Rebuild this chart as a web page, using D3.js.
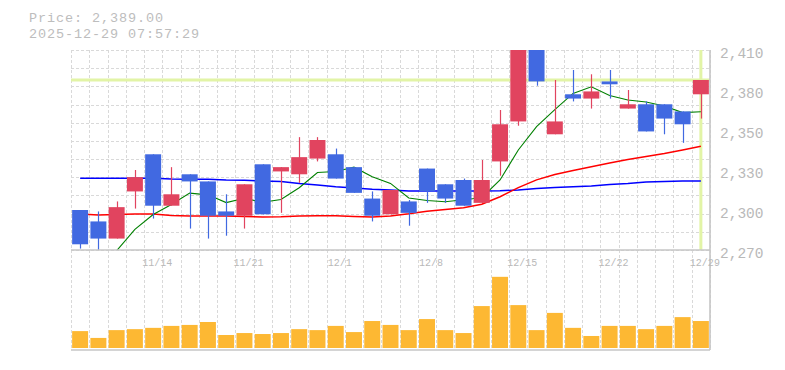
<!DOCTYPE html>
<head>
<meta charset="utf-8">
<title>Candlestick Chart</title>
<script type="text/javascript" src="https://d3js.org/d3.v7.min.js"></script>
<style>
body {
margin: 0;
background: #ffffff;
}

/* AXES */
.axis path,
.axis line {
display: none;
}

.axis text {
fill: #b9b9b9;
font-family: "Liberation Mono", monospace;
}

/* GRID */
.grid line {
stroke: #d9d9d9;
stroke-width: 1;
stroke-dasharray: 3,2;
shape-rendering: crispEdges;
}

.frame {
stroke: #c6c6c6;
stroke-width: 1.6;
fill: none;
}

.ma {
fill: none;
}

.header {
fill: #bdbdbd;
font-family: "Liberation Mono", monospace;
font-size: 13.5px;
letter-spacing: 0.9px;
}
</style>
</head>
<body>
<div id="container"></div>
<script>
//-----------------------------DATA-----------------------------//
const dates = ["11/10","11/11","11/12","11/13","11/14","11/17","11/18","11/19","11/20","11/21",
               "11/25","11/26","11/27","11/28","12/1","12/2","12/3","12/4","12/5","12/8",
               "12/9","12/10","12/11","12/12","12/15","12/16","12/17","12/18","12/19","12/22",
               "12/23","12/24","12/25","12/26","12/29"];

const opens  = [2298,2290,2278,2311,2337,2301,2323,2318,2297,2294,2330,2325,2323,2334,2337,2328,2306,2295,2304,2327,
                2316,2319,2303,2332,2360,2414,2351,2379,2376,2388,2369,2372,2372,2367,2379];
const highs  = [2298,2297,2304,2326,2337,2328,2323,2318,2309,2316,2330,2328,2349,2349,2341,2328,2311,2312,2305,2327,
                2316,2320,2333,2368,2420,2418,2389,2396,2393,2396,2382,2374,2372,2367,2389];
const lows   = [2271,2270,2278,2299,2292,2301,2285,2278,2280,2285,2295,2296,2317,2332,2320,2310,2290,2295,2287,2303,
                2303,2301,2303,2322,2357,2385,2351,2374,2369,2376,2369,2353,2351,2345,2362];
const closes = [2274,2278,2300,2321,2301,2309,2318,2294,2294,2316,2295,2328,2335,2347,2320,2310,2294,2312,2296,2311,
                2306,2301,2319,2358,2416,2388,2360,2376,2381,2386,2372,2353,2362,2358,2389];

// moving averages (5, 25, 75 days)
const ma5  = [2255,2262,2269.5,2284.5,2294.8,2301.8,2309.8,2308.6,2303.2,2306.2,2303.4,2305.4,2313.6,2324.2,2325,2328,
              2321.2,2316.6,2306.4,2304.6,2303.8,2305.2,2306.6,2319,2340,2356.4,2368.2,2379.6,2384.2,2378.2,2375,
              2373.6,2370.8,2366.2,2366.8];
const ma25 = [2295.2,2294.5,2294.9,2295.2,2295.2,2294.2,2293.8,2293.8,2293.8,2293.5,2293.1,2293.3,2293.8,2294,2294,
              2293.5,2293.1,2293.8,2295.3,2297.1,2298.4,2299.6,2302,2307.3,2313.7,2319.1,2322.8,2325.6,2328.2,2330.9,
              2333.3,2335.5,2337.6,2340,2342.6];
const ma75 = [2320.2,2320.2,2320.2,2320.2,2320.2,2319.7,2319.6,2319.5,2319,2318.9,2318.3,2318,2316.6,2315.5,2314.3,
              2313.4,2312.5,2312,2311.3,2311.3,2311.3,2311.3,2311.3,2311.5,2312,2313,2313.8,2314.3,2314.8,2315.9,
              2316.6,2317.6,2318,2318.3,2318.3];

// volume (thousand shares)
const volumes = [52,31,55,58,62,68,71,80,40,46,43,46,58,55,68,49,83,71,55,89,
                 55,46,129,219,132,55,108,62,37,68,68,58,68,95,83];

const lastPrice = 2389;
const priceTicks = [2410, 2382, 2354, 2326, 2298, 2270];
const priceTickLabels = ["2,410", "2,380", "2,350", "2,330", "2,300", "2,270"];
const dateTicks = ["11/14", "11/21", "12/1", "12/8", "12/15", "12/22", "12/29"];
const headerLines = ["Price: 2,389.00", "2025-12-29 07:57:29"];

//-----------------------------SVG------------------------------//
const width = 785;
const height = 370;
const left = 71, right = 710;
const priceTop = 50, priceBottom = 250;
const volTop = 270, volBottom = 348, volLine = 350;

const svg = d3.select("div#container").append("svg")
    .attr("width", width)
    .attr("height", height);

//----------------------------SCALES----------------------------//
const xScale = d3.scaleBand()
    .domain(dates)
    .range([left, right])
    .paddingInner(0.125)
    .paddingOuter(0.0625);
const step = xScale.step();
const bw = xScale.bandwidth();
const cx = d => xScale(d) + bw / 2;

const yScale = d3.scaleLinear().domain([2270, 2410]).range([priceBottom, priceTop]);
const vScale = d3.scaleLinear().domain([0, 240]).range([volBottom, volTop]);

const candles = dates.map((d, i) => ({
    date: d, open: opens[i], high: highs[i], low: lows[i], close: closes[i]
}));

//-----------------------------GRID-----------------------------//
const grid = svg.append("g").attr("class", "grid");

// vertical lines between days
grid.selectAll(".vgrid")
    .data(dates.concat(["end"]))
    .enter().append("line")
    .attr("x1", (d, i) => Math.round(left + i * step) + 0.5)
    .attr("x2", (d, i) => Math.round(left + i * step) + 0.5)
    .attr("y1", priceTop)
    .attr("y2", volLine);

// horizontal lines in price panel
grid.selectAll(".hgrid")
    .data(d3.range(12).map(k => 2270 + k * 140 / 11))
    .enter().append("line")
    .attr("x1", left)
    .attr("x2", right)
    .attr("y1", d => Math.round(yScale(d)) + 0.5)
    .attr("y2", d => Math.round(yScale(d)) + 0.5);

//---------------------------CLIP-------------------------------//
svg.append("clipPath")
    .attr("id", "priceClip")
    .append("rect")
    .attr("x", left)
    .attr("y", priceTop)
    .attr("width", right - left)
    .attr("height", priceBottom - priceTop);

const price = svg.append("g").attr("clip-path", "url(#priceClip)");

// current price and last day markers
price.append("line")
    .attr("x1", left).attr("x2", right)
    .attr("y1", yScale(lastPrice)).attr("y2", yScale(lastPrice))
    .attr("stroke", "#e2f4a6")
    .attr("stroke-width", 3);

price.append("line")
    .attr("x1", cx(dates[dates.length - 1])).attr("x2", cx(dates[dates.length - 1]))
    .attr("y1", priceTop).attr("y2", priceBottom)
    .attr("stroke", "#e2f4a6")
    .attr("stroke-width", 3);

//----------------------------LINES-----------------------------//
const line = d3.line()
    .x((d, i) => cx(dates[i]))
    .y(d => yScale(d));

[[ma75, "#0000ff", 1.5], [ma25, "#ff0000", 1.5], [ma5, "#008000", 1.1]].forEach(function(s) {
    price.append("path")
        .attr("class", "ma")
        .attr("d", line(s[0]))
        .attr("stroke", s[1])
        .attr("stroke-width", s[2]);
});

//---------------------------CANDLES----------------------------//
const up = "#e1445f";
const down = "#4169e1";

const c = price.selectAll(".candle")
    .data(candles)
    .enter().append("g");

c.append("line")
    .attr("x1", d => Math.round(cx(d.date)) + 0.5)
    .attr("x2", d => Math.round(cx(d.date)) + 0.5)
    .attr("y1", d => yScale(d.high))
    .attr("y2", d => yScale(d.low))
    .attr("stroke", d => d.close >= d.open ? up : down)
    .attr("stroke-width", 1.2);

c.append("rect")
    .attr("x", d => xScale(d.date))
    .attr("width", bw)
    .attr("y", d => yScale(Math.max(d.open, d.close)))
    .attr("height", d => Math.max(1.5, Math.abs(yScale(d.open) - yScale(d.close))))
    .attr("fill", d => d.close >= d.open ? up : down);

//---------------------------VOLUME-----------------------------//
svg.selectAll(".vol")
    .data(volumes)
    .enter().append("rect")
    .attr("x", (d, i) => xScale(dates[i]))
    .attr("width", bw)
    .attr("y", d => vScale(d))
    .attr("height", d => volBottom - vScale(d))
    .attr("fill", "#fdb833");

//----------------------------FRAME-----------------------------//
svg.append("path")
    .attr("class", "frame")
    .attr("d", "M" + left + "," + priceBottom + "H" + right
        + "M" + left + "," + volLine + "H" + right
        + "M" + right + "," + priceTop + "V" + volLine);

//-----------------------------AXES-----------------------------//
const yaxis = d3.axisRight(yScale)
    .tickValues(priceTicks)
    .tickFormat((d, i) => priceTickLabels[i])
    .tickSize(0)
    .tickPadding(10);

svg.append("g")
    .attr("class", "axis")
    .attr("transform", "translate(" + right + ",0)")
    .call(yaxis)
    .selectAll("text")
    .attr("dy", "0.5em")
    .style("font-size", "14.5px");

const xaxis = d3.axisBottom(xScale)
    .tickValues(dateTicks)
    .tickSize(0)
    .tickPadding(8.6);

svg.append("g")
    .attr("class", "axis")
    .attr("transform", "translate(4," + priceBottom + ")")
    .call(xaxis)
    .selectAll("text")
    .style("font-size", "10px");

//----------------------------HEADER----------------------------//
svg.selectAll(".header")
    .data(headerLines)
    .enter().append("text")
    .attr("class", "header")
    .attr("x", 29)
    .attr("y", (d, i) => 22 + i * 15.5)
    .text(d => d);
</script>
</body>
